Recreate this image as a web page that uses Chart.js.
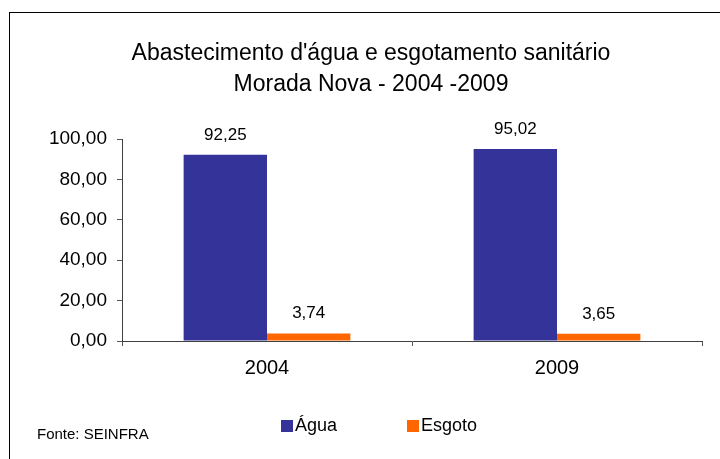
<!DOCTYPE html>
<html>
<head>
<meta charset="utf-8">
<script src="https://cdn.jsdelivr.net/npm/chart.js@4"></script>
<style>
  html, body { margin: 0; padding: 0; background: #ffffff; overflow: hidden; }
  #wrap { width: 720px; height: 459px; position: relative; }
  canvas { display: block; }
</style>
</head>
<body>
<div id="wrap"><canvas id="c" width="720" height="459"></canvas></div>
<script>
// ---- data ----
const categories = ['2004', '2009'];
const aguaValues = [92.25, 95.02];
const esgotoValues = [3.74, 3.65];
const seriesNames = ['Água', 'Esgoto'];
const titleLines = ["Abastecimento d'água e esgotamento sanitário", 'Morada Nova - 2004 -2009'];
const sourceText = 'Fonte: SEINFRA';

const FONT = "'Liberation Sans', Arial, sans-serif";
const fmt = v => Number(v).toFixed(2).replace('.', ',');

const framePlugin = {
  id: 'frame',
  beforeDraw(chart) {
    const ctx = chart.ctx;
    ctx.save();
    ctx.fillStyle = '#ffffff';
    ctx.fillRect(0, 0, chart.width, chart.height);
    ctx.strokeStyle = '#000000';
    ctx.lineWidth = 1;
    ctx.strokeRect(9.5, 12.5, chart.width + 40, chart.height + 40);
    ctx.restore();
  }
};

const valueLabels = {
  id: 'valueLabels',
  afterDatasetsDraw(chart) {
    const ctx = chart.ctx;
    ctx.save();
    ctx.font = '17px ' + FONT;
    ctx.fillStyle = '#000000';
    ctx.textAlign = 'center';
    ctx.textBaseline = 'alphabetic';
    chart.data.datasets.forEach((ds, di) => {
      const meta = chart.getDatasetMeta(di);
      meta.data.forEach((el, i) => {
        ctx.fillText(fmt(ds.data[i]), el.x, el.y - 15);
      });
    });
    ctx.restore();
  }
};

const customLegend = {
  id: 'customLegend',
  afterDraw(chart) {
    const ctx = chart.ctx;
    ctx.save();
    ctx.font = '18px ' + FONT;
    ctx.textBaseline = 'middle';
    ctx.textAlign = 'left';
    let x = 281;
    const yc = 426;
    chart.data.datasets.forEach((ds) => {
      ctx.fillStyle = ds.backgroundColor;
      ctx.fillRect(x, yc - 6, 12, 12);
      ctx.fillStyle = '#000000';
      ctx.fillText(ds.label, x + 14, yc);
      x += 126;
    });
    // source note
    ctx.font = '15px ' + FONT;
    ctx.fillText(sourceText, 37, 435);
    ctx.restore();
  }
};

new Chart(document.getElementById('c'), {
  type: 'bar',
  data: {
    labels: categories,
    datasets: [
      { label: seriesNames[0], data: aguaValues, backgroundColor: '#333399', borderWidth: 0 },
      { label: seriesNames[1], data: esgotoValues, backgroundColor: '#FF6600', borderWidth: 0 }
    ]
  },
  options: {
    responsive: false,
    animation: false,
    devicePixelRatio: 1,
    categoryPercentage: 0.575,
    barPercentage: 1.0,
    layout: { padding: { left: 40, right: 18, top: 0, bottom: 58 } },
    plugins: {
      legend: { display: false },
      tooltip: { enabled: false },
      title: {
        display: true,
        text: titleLines,
        color: '#000000',
        font: { family: FONT, size: 23, weight: 'normal', lineHeight: '31px' },
        padding: { top: 38, bottom: 39 }
      }
    },
    scales: {
      x: {
        grid: { display: true, drawOnChartArea: false, drawTicks: true, tickLength: 5, color: '#555555', offset: true },
        border: { display: true, color: '#404040', width: 1 },
        ticks: { color: '#000000', font: { family: FONT, size: 20 }, padding: 10 },
        afterFit(scale) { scale.height = 60; }
      },
      y: {
        min: 0, max: 100,
        ticks: { stepSize: 20, color: '#000000', font: { family: FONT, size: 19 }, padding: 10, callback: v => fmt(v) },
        grid: { display: true, drawOnChartArea: false, drawTicks: true, tickLength: 5, color: '#555555' },
        border: { display: true, color: '#404040', width: 1 },
        afterFit(scale) { scale.width = 82; }
      }
    }
  },
  plugins: [framePlugin, valueLabels, customLegend]
});
</script>
</body>
</html>
